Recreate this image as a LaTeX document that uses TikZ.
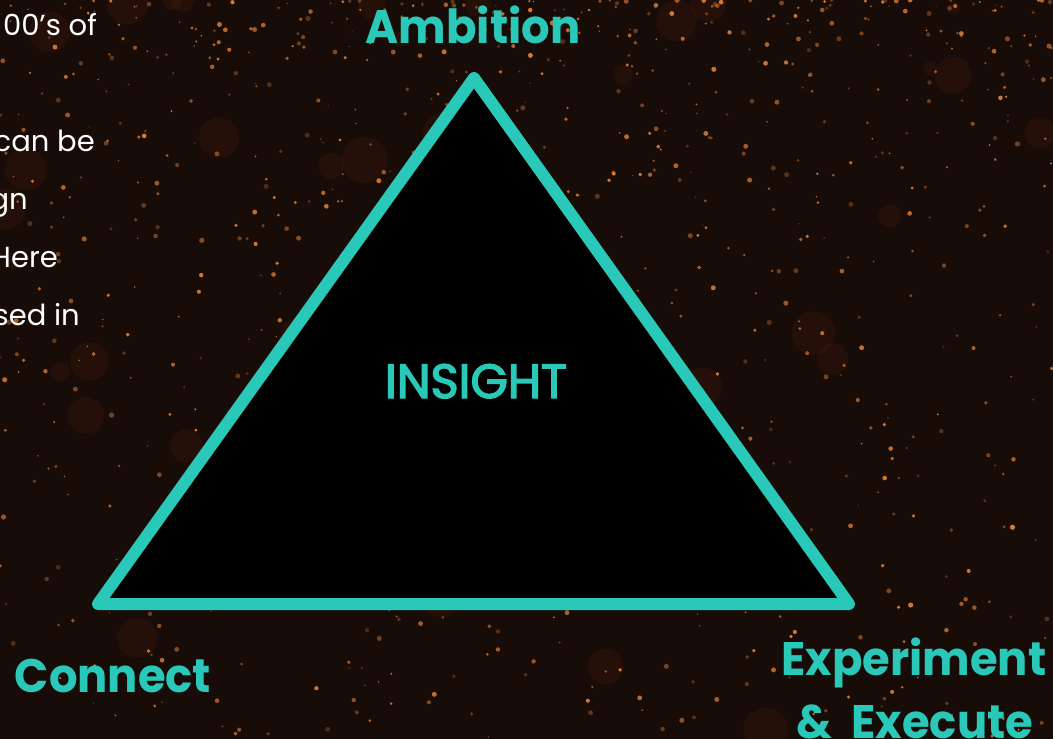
\documentclass[tikz,border=0pt]{standalone}
\usepackage{fontspec}
\setmainfont{Poppins}
\newfontfamily\lblfont[FakeStretch=0.955]{Poppins}
\newfontfamily\insfont[FakeStretch=1.0,FakeBold=3]{Poppins}
\newfontfamily\sidefont{Poppins}
\definecolor{bgc}{RGB}{24,12,8}
\definecolor{teal}{RGB}{42,200,184}
\definecolor{speck}{RGB}{235,135,60}
\definecolor{blob}{RGB}{110,45,12}
\tikzset{
  lbl/.style={text=teal, font=\lblfont\fontsize{47}{56}\selectfont\bfseries, inner sep=0pt, anchor=base},
  side/.style={text=white, font=\sidefont\fontsize{29}{34}\selectfont, inner sep=0pt, anchor=base east},
  tri/.style={draw=teal, line width=12pt, line join=round, fill=black},
}
\begin{document}
\begin{tikzpicture}[x=1pt,y=-1pt]
\useasboundingbox (0,0) rectangle (1053,739);
\clip (0,0) rectangle (1053,739);
\fill[bgc] (0,0) rectangle (1053,739);
% soft blobs
\pgfmathsetseed{4242}
\foreach \i in {1,...,45}{
  \pgfmathsetmacro{\rx}{rnd*1053}
  \pgfmathsetmacro{\ry}{pow(rnd,1.4)*739}
  \pgfmathsetmacro{\rr}{6+rnd*18}
  \fill[blob, opacity=0.14] (\rx,\ry) circle[radius=\rr];
}
% speckles
\foreach \i in {1,...,900}{
  \pgfmathsetmacro{\rx}{rnd*1053}
  \pgfmathsetmacro{\ry}{pow(rnd,1.6)*739}
  \pgfmathsetmacro{\rr}{0.7+rnd*1.9}
  \pgfmathsetmacro{\ro}{0.25+rnd*0.65}
  \fill[speck, opacity=\ro] (\rx,\ry) circle[radius=\rr];
}
% left cut-off text
\node[side] (t1) at (97,35) {00’s of};
\node[side] (t2) at (95,151) {can be};
\node[side] (t3) at (28,209) {gn};
\node[side] (t4) at (58,267) {Here};
\node[side] (t5) at (80,325) {sed in};
% triangle
\coordinate (apex) at (474,78);
\coordinate (bl) at (98,604);
\coordinate (br) at (849,604);
\draw[tri] (apex) -- (bl) -- (br) -- cycle;
% labels
\node[lbl] (amb) at (473,43) {Ambition};
\node[lbl] (con) at (113,692) {Connect};
\node[lbl] (exp) at (914,675) {Experiment};
\node[lbl] (exe) at (915,738) {\&\ \ Execute};
\node[lbl, font=\insfont\fontsize{48}{54}\selectfont] (ins) at (476,398) {INSIGHT};
\end{tikzpicture}
\end{document}
